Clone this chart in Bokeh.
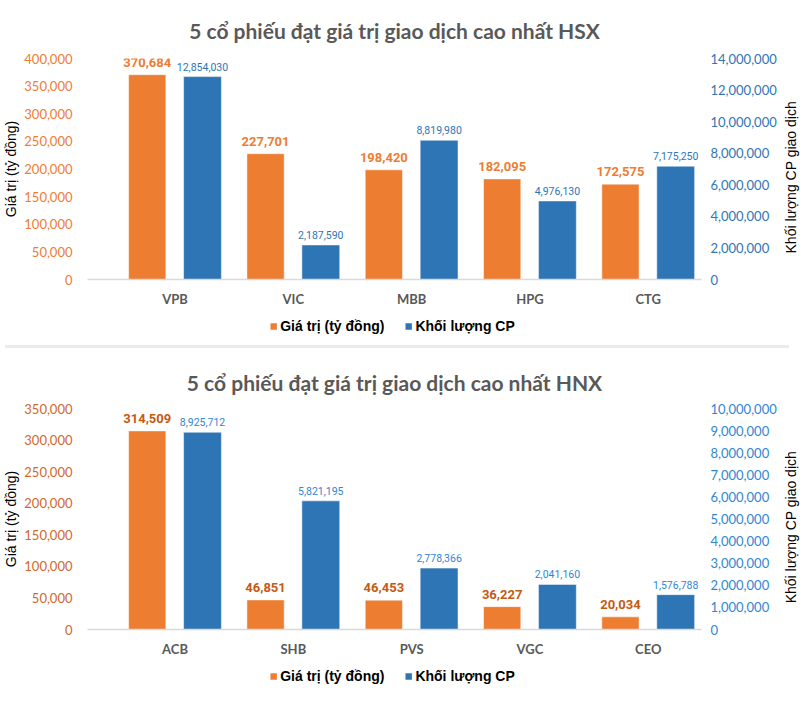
import math
from bokeh.plotting import figure
from bokeh.models import (Range1d, LinearAxis, Legend, LegendItem, ColumnDataSource,
                          FixedTicker, LabelSet, Label, Div, NumeralTickFormatter)
from bokeh.layouts import column, row
from bokeh.core.properties import value
from bokeh.embed import file_html
from bokeh.resources import INLINE

# ---------------- data ----------------
hsx_title = "5 cổ phiếu đạt giá trị giao dịch cao nhất HSX"
hsx_tickers = ["VPB", "VIC", "MBB", "HPG", "CTG"]
hsx_value = [370684, 227701, 198420, 182095, 172575]
hsx_volume = [12854030, 2187590, 8819980, 4976130, 7175250]

hnx_title = "5 cổ phiếu đạt giá trị giao dịch cao nhất HNX"
hnx_tickers = ["ACB", "SHB", "PVS", "VGC", "CEO"]
hnx_value = [314509, 46851, 46453, 36227, 20034]
hnx_volume = [8925712, 5821195, 2778366, 2041160, 1576788]

value_name = "Giá trị (tỷ đồng)"
volume_name = "Khối lượng CP"
left_title = "Giá trị (tỷ đồng)"
right_title = "Khối lượng CP giao dịch"

ORANGE = "#ED7D31"
BLUE = "#2E75B6"

TITLE_FONT = "Lato"
TICK_FONT = "Lato"
ARIAL = "Liberation Sans"
NARROW = "Roboto"

FW = 614
FH = 221
W = 784
RT_W = 22


def make_chart(title, cats, vals, vols, left_max, left_step, right_max, right_step,
               top, bottom, standoff, lab_orange, tick_orange, tick_blue, lab_blue):
    p = figure(frame_width=FW, frame_height=FH, output_backend="svg", toolbar_location=None,
               x_range=Range1d(-0.74, 4.45), y_range=Range1d(0, left_max),
               min_border_top=top, min_border_bottom=bottom,
               min_border_left=0, min_border_right=0)
    p.extra_y_ranges = {"vol": Range1d(0, right_max)}
    p.outline_line_color = None
    p.grid.visible = False

    p.title.text = title
    p.title.align = "center"
    p.title.text_font = TITLE_FONT
    p.title.text_font_size = "21px"
    p.title.text_font_style = "bold"
    p.title.text_color = "#595959"
    p.title.standoff = standoff

    idx = list(range(len(cats)))
    src_v = ColumnDataSource(dict(x=[i - 0.235 for i in idx], y=vals,
                                  t=[f"{v:,}" for v in vals]))
    src_q = ColumnDataSource(dict(x=[i + 0.232 for i in idx], y=vols,
                                  t=[f"{v:,}" for v in vols]))
    p.vbar(x="x", top="y", width=0.315, source=src_v, fill_color=ORANGE,
           line_color="white", line_alpha=0.5, line_width=1)
    p.vbar(x="x", top="y", width=0.32, source=src_q, fill_color=BLUE,
           line_color="white", line_alpha=0.5, line_width=1, y_range_name="vol")

    p.add_layout(LabelSet(x="x", y="y", text="t", source=src_v, text_align="center",
                          text_baseline="bottom", y_offset=8, text_font=value(NARROW),
                          text_font_size="13px", text_font_style="bold",
                          text_color=lab_orange))
    p.add_layout(LabelSet(x="x", y="y", text="t", source=src_q, text_align="center",
                          text_baseline="bottom", y_offset=6, text_font=value(NARROW),
                          text_font_size="10.5px", text_color=lab_blue, y_range_name="vol"))

    xa = p.xaxis[0]
    xa.ticker = FixedTicker(ticks=idx)
    xa.major_label_overrides = {i: c for i, c in zip(idx, cats)}
    xa.major_tick_line_color = None
    xa.minor_tick_line_color = None
    xa.axis_line_color = "#D9D9D9"
    xa.axis_line_width = 1.5
    xa.major_label_text_font = TICK_FONT
    xa.major_label_text_font_size = "13px"
    xa.major_label_text_font_style = "bold"
    xa.major_label_text_color = "#595959"
    xa.major_label_standoff = 5

    ya = p.yaxis[0]
    ya.ticker = FixedTicker(ticks=list(range(0, left_max + 1, left_step)))
    ya.formatter = NumeralTickFormatter(format="0,0")
    ya.axis_line_color = None
    ya.major_tick_line_color = None
    ya.minor_tick_line_color = None
    ya.major_label_text_font = TICK_FONT
    ya.major_label_text_font_size = "13px"
    ya.major_label_text_color = tick_orange
    ya.major_label_standoff = 9
    ya.axis_label = left_title
    ya.axis_label_text_font = ARIAL
    ya.axis_label_text_font_size = "14px"
    ya.axis_label_text_font_style = "normal"
    ya.axis_label_text_color = "black"
    ya.axis_label_standoff = 2

    ra = LinearAxis(y_range_name="vol",
                    ticker=FixedTicker(ticks=list(range(0, right_max + 1, right_step))),
                    formatter=NumeralTickFormatter(format="0,0"))
    ra.axis_line_color = None
    ra.major_tick_line_color = None
    ra.minor_tick_line_color = None
    ra.major_label_text_font = TICK_FONT
    ra.major_label_text_font_size = "13px"
    ra.major_label_text_color = tick_blue
    ra.major_label_standoff = 3
    p.add_layout(ra, "right")

    # strip holding the right-axis title, reading bottom to top
    h = top + FH + bottom
    rt = figure(width=RT_W, height=h, output_backend="svg", toolbar_location=None,
                x_range=Range1d(0, RT_W), y_range=Range1d(0, h), min_border=0,
                x_axis_location=None, y_axis_location=None)
    rt.outline_line_color = None
    rt.grid.visible = False
    rt.add_layout(Label(x=RT_W / 2, y=bottom + FH / 2, text=right_title,
                        angle=math.pi / 2, text_align="center", text_baseline="middle",
                        text_font=ARIAL, text_font_size="14px", text_color="black"))
    return row(p, rt, spacing=0)


def make_legend(height, top_gap):
    lg = figure(width=W, height=height, output_backend="svg", toolbar_location=None,
                x_range=Range1d(0, 1), y_range=Range1d(0, 1),
                min_border=0, x_axis_location=None, y_axis_location=None)
    lg.outline_line_color = None
    lg.grid.visible = False
    # one off-screen dummy bar per series, only so the legend has a swatch
    dummy = ColumnDataSource(dict(x=[-5], y=[0]))
    g1 = lg.vbar(x="x", top="y", width=0.1, source=dummy, fill_color=ORANGE, line_color=None)
    g2 = lg.vbar(x="x", top="y", width=0.1, source=dummy, fill_color=BLUE, line_color=None)
    legend = Legend(items=[LegendItem(label=value_name, renderers=[g1]),
                           LegendItem(label=volume_name, renderers=[g2])],
                    orientation="horizontal", location="top_center")
    legend.label_text_font = ARIAL
    legend.label_text_font_size = "14px"
    legend.label_text_font_style = "bold"
    legend.label_text_color = "black"
    legend.glyph_width = 8
    legend.glyph_height = 8
    legend.label_standoff = 3
    legend.label_height = 16
    legend.spacing = 20
    legend.padding = 2
    legend.margin = top_gap
    legend.border_line_color = None
    legend.background_fill_alpha = 0
    lg.add_layout(legend, "center")
    return lg


c1 = make_chart(hsx_title, hsx_tickers, hsx_value, hsx_volume, 400000, 50000,
                14000000, 2000000, 56, 30, 31, ORANGE, ORANGE, BLUE, BLUE)
l1 = make_legend(31, 9)
sep = Div(width=W, height=3, styles={"background-color": "#EBEBEB"})
c2 = make_chart(hnx_title, hnx_tickers, hnx_value, hnx_volume, 350000, 50000,
                10000000, 1000000, 54, 30, 28, "#C55A11", "#D0682A", "#2F86D2", "#2F86D2")
l2 = make_legend(40, 9)

layout = column(c1, l1, sep, c2, l2, spacing=0)
open("out.html", "w").write(file_html(layout, INLINE))
